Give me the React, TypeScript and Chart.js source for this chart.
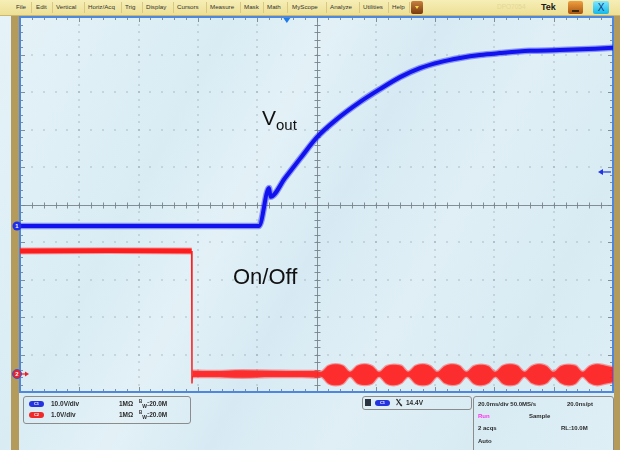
import React, { useEffect, useRef } from "react";
import { Chart, registerables } from "chart.js";

Chart.register(...registerables);

// ---- data (time in ms, 20 ms/div, trigger reference at 0) ----
const blueTimeMs = [-100, -60, -19.4, -16.0, -15.5, -10.6, -5.6, 0.2, 6.9, 14.7, 21.4, 28.2, 34.9, 41.7, 48.4, 55.1, 61.8, 71.8, 82.1, 100];
const blueVolts = [0, 0, 0, 10.1, 7.8, 12.8, 17.9, 23.7, 28.5, 33.1, 36.5, 39.7, 42.1, 43.7, 44.8, 45.6, 46.1, 46.7, 46.9, 47.5];

const redHighTimeMs = [-100, -70, -42.1];
const redHighVolts = [3.28, 3.29, 3.28];
const redEdgeTimeMs = [-42.1, -42.0, -41.9];
const redEdgeVolts = [3.28, -0.25, -0.05];

const redLowTimeMs = [
  -41.9, -35, -25, -15, -5, 0, 1.5,
  4, 6.5, 9, 11.3, 13.8, 16.3, 18.8, 21.1, 23.6, 26.1, 28.6, 30.9, 33.4, 35.9, 38.4, 40.7,
  43.2, 45.7, 48.2, 50.5, 53, 55.5, 58, 60.3, 62.8, 65.3, 67.8, 70.1, 72.6, 75.1, 77.6, 79.9,
  82.4, 84.9, 87.4, 89.7, 92.2, 94.7, 97.2, 100,
];
const redLowUpper = [
  0.09, 0.08, 0.1, 0.09, 0.08, 0.08, 0.06,
  0.22, 0.26, 0.22, 0.06, 0.22, 0.26, 0.21, 0.06, 0.21, 0.25, 0.22, 0.06, 0.22, 0.26, 0.21, 0.06,
  0.21, 0.26, 0.22, 0.06, 0.21, 0.25, 0.21, 0.06, 0.22, 0.26, 0.22, 0.06, 0.21, 0.26, 0.21, 0.06,
  0.21, 0.25, 0.22, 0.06, 0.21, 0.26, 0.23, 0.18,
];
const redLowLower = [
  -0.08, -0.08, -0.1, -0.08, -0.08, -0.09, -0.07,
  -0.25, -0.3, -0.25, -0.07, -0.25, -0.29, -0.25, -0.07, -0.25, -0.3, -0.24, -0.07, -0.25, -0.3, -0.25, -0.07,
  -0.24, -0.29, -0.25, -0.07, -0.25, -0.3, -0.24, -0.07, -0.25, -0.3, -0.25, -0.07, -0.24, -0.29, -0.24, -0.07,
  -0.24, -0.3, -0.25, -0.07, -0.24, -0.3, -0.26, -0.22,
];

const triggerLevelV = 14.4;
const triggerPosMs = -10;

const menuItems = ["File", "Edit", "Vertical", "Horiz/Acq", "Trig", "Display", "Cursors", "Measure", "Mask", "Math", "MyScope", "Analyze", "Utilities", "Help"];
const menuX = [16, 36, 56, 88, 125, 146, 177, 210, 244, 267, 292, 330, 363, 392];
const menuSep = [31, 52, 84, 121, 142, 173, 206, 240, 263, 287, 326, 359, 388, 409];

const pts = (xs: number[], ys: number[]) => xs.map((x, i) => ({ x, y: ys[i] }));

const FONT = '"Liberation Sans", Arial, sans-serif';

const graticulePlugin = {
  id: "graticule",
  beforeDraw(chart: any) {
    const { ctx, chartArea: a } = chart;
    const dw = (a.right - a.left) / 10;
    const dh = (a.bottom - a.top) / 10;
    ctx.save();
    ctx.fillStyle = "rgba(110,125,135,0.85)";
    for (let i = 1; i < 10; i++) {
      if (i === 5) continue;
      const x = a.left + i * dw;
      for (let k = 1; k < 50; k++) ctx.fillRect(Math.round(x) - 0.5, Math.round(a.top + (k * dh) / 5) - 0.5, 1, 1);
      const y = a.top + i * dh;
      for (let k = 1; k < 50; k++) ctx.fillRect(Math.round(a.left + (k * dw) / 5) - 0.5, Math.round(y) - 0.5, 1, 1);
    }
    const cx = Math.round(a.left + 5 * dw) + 0.5;
    const cy = Math.round(a.top + 5 * dh) + 0.5;
    ctx.strokeStyle = "rgba(120,132,140,0.9)";
    ctx.lineWidth = 1;
    ctx.beginPath();
    ctx.moveTo(cx, a.top);
    ctx.lineTo(cx, a.bottom);
    ctx.moveTo(a.left, cy);
    ctx.lineTo(a.right, cy);
    for (let k = 1; k < 50; k++) {
      const y = Math.round(a.top + (k * dh) / 5) + 0.5;
      ctx.moveTo(cx - 3, y);
      ctx.lineTo(cx + 3, y);
      const x = Math.round(a.left + (k * dw) / 5) + 0.5;
      ctx.moveTo(x, cy - 3);
      ctx.lineTo(x, cy + 3);
    }
    for (let k = 1; k < 50; k++) {
      const len = k % 5 === 0 ? 5 : 3;
      const x = Math.round(a.left + (k * dw) / 5) + 0.5;
      ctx.moveTo(x, a.top);
      ctx.lineTo(x, a.top + len);
      ctx.moveTo(x, a.bottom);
      ctx.lineTo(x, a.bottom - len);
      const y = Math.round(a.top + (k * dh) / 5) + 0.5;
      ctx.moveTo(a.left, y);
      ctx.lineTo(a.left + len, y);
      ctx.moveTo(a.right, y);
      ctx.lineTo(a.right - len, y);
    }
    ctx.stroke();
    ctx.strokeStyle = "#4d88de";
    ctx.lineWidth = 2;
    ctx.strokeRect(a.left, a.top, a.right - a.left, a.bottom - a.top);
    ctx.restore();
  },
};

const markerPlugin = {
  id: "markers",
  afterDatasetsDraw(chart: any) {
    const { ctx, chartArea: a, scales } = chart;
    ctx.save();
    const y1 = scales.y.getPixelForValue(0);
    ctx.fillStyle = "#1e2fe6";
    ctx.beginPath();
    ctx.arc(a.left - 3, y1, 4.5, 0, Math.PI * 2);
    ctx.fill();
    ctx.fillStyle = "#fff";
    ctx.font = `bold 6px ${FONT}`;
    ctx.textAlign = "center";
    ctx.textBaseline = "middle";
    ctx.fillText("1", a.left - 3, y1 + 0.5);
    const y2 = scales.y2.getPixelForValue(0);
    ctx.strokeStyle = "#e8222a";
    ctx.lineWidth = 1.2;
    ctx.beginPath();
    ctx.moveTo(a.left, y2);
    ctx.lineTo(a.left + 7, y2);
    ctx.stroke();
    ctx.fillStyle = "#e8222a";
    ctx.beginPath();
    ctx.moveTo(a.left + 9, y2);
    ctx.lineTo(a.left + 5, y2 - 2.5);
    ctx.lineTo(a.left + 5, y2 + 2.5);
    ctx.fill();
    ctx.beginPath();
    ctx.arc(a.left - 3, y2, 4.5, 0, Math.PI * 2);
    ctx.fill();
    ctx.strokeStyle = "#2d55e0";
    ctx.lineWidth = 1;
    ctx.stroke();
    ctx.fillStyle = "#fff";
    ctx.fillText("2", a.left - 3, y2 + 0.5);
    const yt = scales.y.getPixelForValue(triggerLevelV);
    ctx.strokeStyle = "#2233e0";
    ctx.lineWidth = 1.2;
    ctx.beginPath();
    ctx.moveTo(a.right - 10, yt);
    ctx.lineTo(a.right - 2, yt);
    ctx.stroke();
    ctx.fillStyle = "#2233e0";
    ctx.beginPath();
    ctx.moveTo(a.right - 15, yt);
    ctx.lineTo(a.right - 10, yt - 3);
    ctx.lineTo(a.right - 10, yt + 3);
    ctx.fill();
    const xt = scales.x.getPixelForValue(triggerPosMs);
    ctx.fillStyle = "#1e7be8";
    ctx.beginPath();
    ctx.moveTo(xt - 3.5, a.top + 1);
    ctx.lineTo(xt + 3.5, a.top + 1);
    ctx.lineTo(xt, a.top + 6);
    ctx.fill();
    ctx.restore();
  },
};

function Pill({ left, top, color, label }: { left: number; top: number; color: string; label: string }) {
  return (
    <div
      style={{
        position: "absolute",
        left,
        top,
        width: 15,
        height: 6,
        borderRadius: 3,
        background: color,
        color: "#fff",
        fontSize: 4,
        lineHeight: "6px",
        textAlign: "center",
        fontWeight: "bold",
      }}
    >
      {label}
    </div>
  );
}

function T({ left, top, children, color, size, bold }: any) {
  return (
    <div
      style={{
        position: "absolute",
        left,
        top,
        fontSize: size || 6.5,
        lineHeight: 1,
        fontWeight: bold === false ? "normal" : "bold",
        color: color || "#2a2a2a",
        whiteSpace: "nowrap",
      }}
    >
      {children}
    </div>
  );
}

export default function App() {
  const ref = useRef<HTMLCanvasElement | null>(null);
  useEffect(() => {
    if (!ref.current) return;
    const chart = new Chart(ref.current, {
      type: "line",
      data: {
        datasets: [
          {
            data: pts(blueTimeMs, blueVolts),
            borderColor: "#1212ee",
            borderWidth: 4,
            cubicInterpolationMode: "monotone",
            yAxisID: "y",
          },
          {
            data: pts(blueTimeMs, blueVolts),
            borderColor: "rgba(30,40,245,0.45)",
            borderWidth: 6.5,
            cubicInterpolationMode: "monotone",
            yAxisID: "y",
          },
          {
            data: pts(redHighTimeMs, redHighVolts),
            borderColor: "#ff1c1c",
            borderWidth: 5,
            yAxisID: "y2",
          },
          {
            data: pts(redHighTimeMs, redHighVolts),
            borderColor: "rgba(255,40,40,0.4)",
            borderWidth: 7,
            yAxisID: "y2",
          },
          {
            data: pts(redEdgeTimeMs, redEdgeVolts),
            borderColor: "#ff2020",
            borderWidth: 1.5,
            yAxisID: "y2",
          },
          {
            data: pts(redLowTimeMs, redLowUpper),
            borderColor: "rgba(255,50,50,0.45)",
            borderWidth: 2.5,
            cubicInterpolationMode: "monotone",
            fill: false,
            yAxisID: "y2",
          },
          {
            data: pts(redLowTimeMs, redLowLower),
            borderColor: "rgba(255,50,50,0.45)",
            borderWidth: 2.5,
            backgroundColor: "rgba(255,28,28,0.92)",
            cubicInterpolationMode: "monotone",
            fill: "-1",
            yAxisID: "y2",
          },
        ],
      },
      options: {
        animation: false,
        responsive: false,
        maintainAspectRatio: false,
        devicePixelRatio: 1,
        layout: { padding: { left: 20, top: 17, right: 7, bottom: 58 } },
        elements: { point: { radius: 0 } },
        plugins: {
          legend: { display: false },
          tooltip: { enabled: false },
          filler: { drawTime: "beforeDatasetDraw" },
        },
        scales: {
          x: { type: "linear", min: -100, max: 100, display: false },
          y: { type: "linear", min: -44.27, max: 55.73, display: false },
          y2: { type: "linear", min: -0.48, max: 9.52, display: false, position: "right" },
        },
      } as any,
      plugins: [graticulePlugin, markerPlugin],
    });
    return () => chart.destroy();
  }, []);

  return (
    <div
      style={{
        position: "fixed",
        left: 0,
        top: 0,
        width: 620,
        height: 450,
        overflow: "hidden",
        fontFamily: FONT,
        background:
          "linear-gradient(118deg, #e6f3f8 0%, #d9ecf4 28%, #e3f1f7 40%, #d7eaf3 52%, #e0eff6 66%, #d8ebf3 82%, #dfeff6 100%)",
      }}
    >
      <div style={{ position: "absolute", left: 11, top: 15, width: 8, height: 435, background: "#b49b5c" }} />
      <div style={{ position: "absolute", left: 614, top: 15, width: 6, height: 435, background: "#b49b5c" }} />
      <canvas ref={ref} width={620} height={450} style={{ position: "absolute", left: 0, top: 0, width: 620, height: 450 }} />

      <div
        style={{
          position: "absolute",
          left: 0,
          top: 0,
          width: 620,
          height: 15,
          background: "linear-gradient(#f6eeb6, #eddf95)",
          borderBottom: "1px solid #cdb76c",
        }}
      >
        {menuItems.map((m, i) => (
          <div
            key={m}
            style={{ position: "absolute", left: menuX[i], top: 4, fontSize: 6.2, lineHeight: 1, color: "#333" }}
          >
            {m}
          </div>
        ))}
        {menuSep.map((x, i) => (
          <div key={i} style={{ position: "absolute", left: x, top: 2, width: 1, height: 11, background: "#d8c884" }} />
        ))}
        <div
          style={{
            position: "absolute",
            left: 411,
            top: 1,
            width: 12,
            height: 13,
            borderRadius: 2,
            background: "linear-gradient(#c8803e, #7a3a0c)",
          }}
        >
          <div
            style={{
              position: "absolute",
              left: 4,
              top: 5,
              width: 0,
              height: 0,
              borderLeft: "2px solid transparent",
              borderRight: "2px solid transparent",
              borderTop: "3px solid #f4d84a",
            }}
          />
        </div>
        <div style={{ position: "absolute", left: 497, top: 4, fontSize: 6.5, lineHeight: 1, color: "#e4d696" }}>DPO7054</div>
        <div style={{ position: "absolute", left: 541, top: 3, fontSize: 9, lineHeight: 1, fontWeight: "bold", color: "#1a1a1a" }}>
          Tek
        </div>
        <div
          style={{
            position: "absolute",
            left: 568,
            top: 1,
            width: 15,
            height: 13,
            borderRadius: 2,
            background: "linear-gradient(#f0a040, #a85410)",
          }}
        >
          <div style={{ position: "absolute", left: 4, top: 9, width: 7, height: 1.5, background: "#3a2a10" }} />
        </div>
        <div
          style={{
            position: "absolute",
            left: 593,
            top: 1,
            width: 16,
            height: 13,
            borderRadius: 2,
            background: "linear-gradient(#7fe8ff, #14b8e8)",
            color: "#123a80",
            fontSize: 10,
            lineHeight: "13px",
            textAlign: "center",
          }}
        >
          X
        </div>
      </div>

      <div style={{ position: "absolute", left: 262, top: 107, fontSize: 21, lineHeight: 1, color: "#111" }}>V</div>
      <div style={{ position: "absolute", left: 276, top: 117, fontSize: 15, lineHeight: 1, color: "#111" }}>out</div>
      <div style={{ position: "absolute", left: 233, top: 266, fontSize: 22, lineHeight: 1, color: "#111" }}>On/Off</div>

      <div
        style={{
          position: "absolute",
          left: 23,
          top: 396,
          width: 166,
          height: 26,
          border: "1px solid #8c8c8c",
          borderRadius: 3,
        }}
      />
      <Pill left={29} top={401} color="#2433e0" label="C1" />
      <T left={51} top={401}>10.0V/div</T>
      <T left={119} top={401}>1MΩ</T>
      <T left={139} top={400}>
        <sup style={{ fontSize: 4.5 }}>B</sup>
        <sub style={{ fontSize: 5 }}>W</sub>:20.0M
      </T>
      <Pill left={29} top={412} color="#ee2a2a" label="C2" />
      <T left={51} top={412}>1.0V/div</T>
      <T left={119} top={412}>1MΩ</T>
      <T left={139} top={411}>
        <sup style={{ fontSize: 4.5 }}>B</sup>
        <sub style={{ fontSize: 5 }}>W</sub>:20.0M
      </T>

      <div
        style={{
          position: "absolute",
          left: 362,
          top: 396,
          width: 108,
          height: 12,
          border: "1px solid #8c8c8c",
          borderRadius: 3,
        }}
      />
      <div style={{ position: "absolute", left: 365, top: 399, width: 6, height: 7, background: "#2a3440" }} />
      <Pill left={375} top={400} color="#2433e0" label="C1" />
      <T left={396} top={399} size={8}>Ⲭ</T>
      <T left={406} top={400}>14.4V</T>

      <div
        style={{
          position: "absolute",
          left: 473,
          top: 396,
          width: 139,
          height: 60,
          border: "1px solid #8c8c8c",
          borderRadius: 3,
        }}
      />
      <T left={478} top={401} size={6}>20.0ms/div 50.0MS/s</T>
      <T left={567} top={401} size={6}>20.0ns/pt</T>
      <T left={478} top={413} size={6} color="#ff33ee">Run</T>
      <T left={529} top={413} size={6}>Sample</T>
      <T left={478} top={425} size={6}>2 acqs</T>
      <T left={561} top={425} size={6}>RL:10.0M</T>
      <T left={478} top={438} size={6}>Auto</T>
    </div>
  );
}
